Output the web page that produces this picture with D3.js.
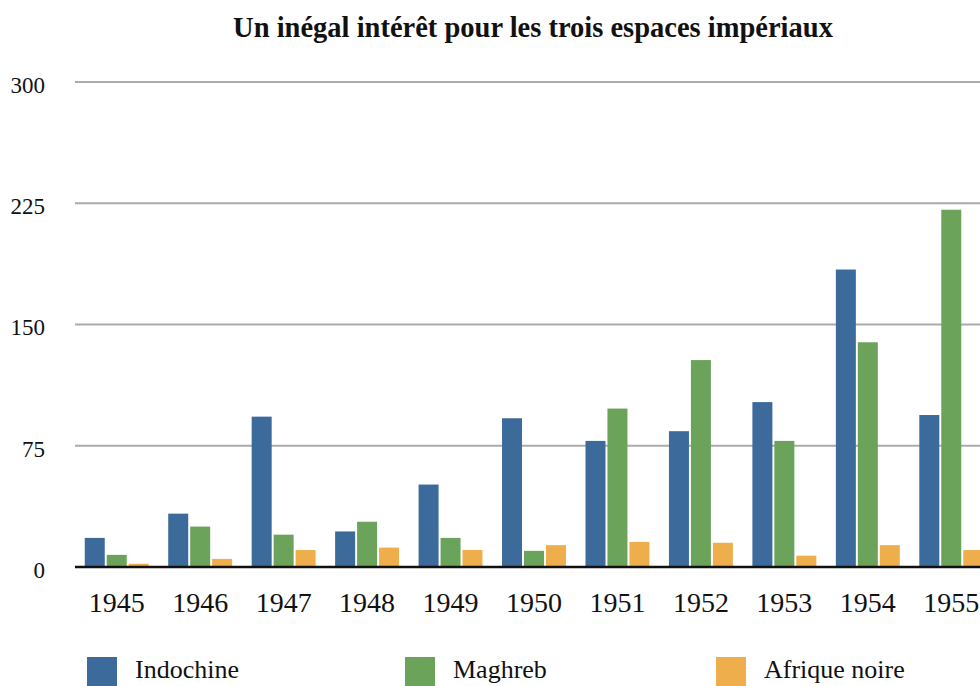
<!DOCTYPE html>
<meta charset="utf-8">
<script src="https://d3js.org/d3.v7.min.js"></script>
<style>
  body { margin: 0; background: #fff; }
  text { font-family: "Liberation Serif", "DejaVu Serif", serif; fill: #111; }
</style>
<div id="chart"></div>
<script>

// data
const years = ["1945", "1946", "1947", "1948", "1949", "1950", "1951", "1952", "1953", "1954", "1955"];
const series = ["Indochine", "Maghreb", "Afrique noire"];
const indochine = [18, 33, 93, 22, 51, 92, 78, 84, 102, 184, 94];
const maghreb = [7.5, 25, 20, 28, 18, 10, 98, 128, 78, 139, 221];
const afrique = [2, 5, 10.5, 12, 10.5, 13.5, 15.5, 15, 7, 13.5, 10.5];
const yTicks = [0, 75, 150, 225, 300];
const colors = ["#3b6a9b", "#6ca35a", "#eeae4b"];

const values = [indochine, maghreb, afrique];
const rows = years.map((yr, i) => ({year: yr, vals: series.map((s, j) => ({key: s, value: values[j][i]}))}));

const W = 980, H = 686;
const margin = {top: 82, left: 75, bottom: 567};

const svg = d3.select("#chart").append("svg")
    .attr("width", W)
    .attr("height", H);

// title
svg.append("text")
    .attr("x", 533)
    .attr("y", 37)
    .attr("text-anchor", "middle")
    .style("font-size", "28.5px")
    .style("font-weight", "bold")
    .text("Un inégal intérêt pour les trois espaces impériaux");

// scales
const x0 = d3.scaleBand()
    .domain(years)
    .range([margin.left, 993])
    .paddingInner(0.234)
    .paddingOuter(0.117);

const x1 = d3.scaleBand()
    .domain(series)
    .range([0, x0.bandwidth()])
    .paddingInner(0.09);

const y = d3.scaleLinear()
    .domain([0, 300])
    .range([margin.bottom, margin.top]);

const color = d3.scaleOrdinal().domain(series).range(colors);

// grid lines
svg.append("g")
    .selectAll("line")
    .data(yTicks.filter(d => d > 0))
    .join("line")
    .attr("x1", margin.left)
    .attr("x2", W)
    .attr("y1", d => y(d))
    .attr("y2", d => y(d))
    .attr("stroke", "#ababab")
    .attr("stroke-width", 2);

// y axis labels
const yAxis = svg.append("g")
    .attr("transform", `translate(45,0)`)
    .call(d3.axisLeft(y).tickValues(yTicks).tickSize(0).tickPadding(0));
yAxis.select(".domain").remove();
yAxis.selectAll("text")
    .attr("dy", "0.45em")
    .style("font-size", "23px")
    .style("font-family", "Liberation Serif, serif")
    .attr("fill", "#111");

// bars
svg.append("g")
    .selectAll("g")
    .data(rows)
    .join("g")
    .attr("transform", d => `translate(${x0(d.year)},0)`)
    .selectAll("rect")
    .data(d => d.vals)
    .join("rect")
    .attr("x", d => x1(d.key))
    .attr("y", d => y(d.value))
    .attr("width", x1.bandwidth())
    .attr("height", d => y(0) - y(d.value))
    .attr("fill", d => color(d.key));

// baseline
svg.append("line")
    .attr("x1", margin.left)
    .attr("x2", W)
    .attr("y1", y(0))
    .attr("y2", y(0))
    .attr("stroke", "#111")
    .attr("stroke-width", 2.5);

// x axis labels
const xAxis = svg.append("g")
    .attr("transform", `translate(0,${y(0)})`)
    .call(d3.axisBottom(x0).tickSize(0).tickPadding(0));
xAxis.select(".domain").remove();
xAxis.selectAll("text")
    .attr("y", 45)
    .attr("dy", 0)
    .style("font-size", "28px")
    .style("font-family", "Liberation Serif, serif")
    .attr("fill", "#111");

// legend
const legendX = [87, 405, 716];
const legend = svg.append("g")
    .selectAll("g")
    .data(series)
    .join("g")
    .attr("transform", (d, i) => `translate(${legendX[i]},657)`);
legend.append("rect")
    .attr("width", 30)
    .attr("height", 30)
    .attr("fill", d => color(d));
legend.append("text")
    .attr("x", 48)
    .attr("y", 21)
    .style("font-size", "26px")
    .text(d => d);

</script>
